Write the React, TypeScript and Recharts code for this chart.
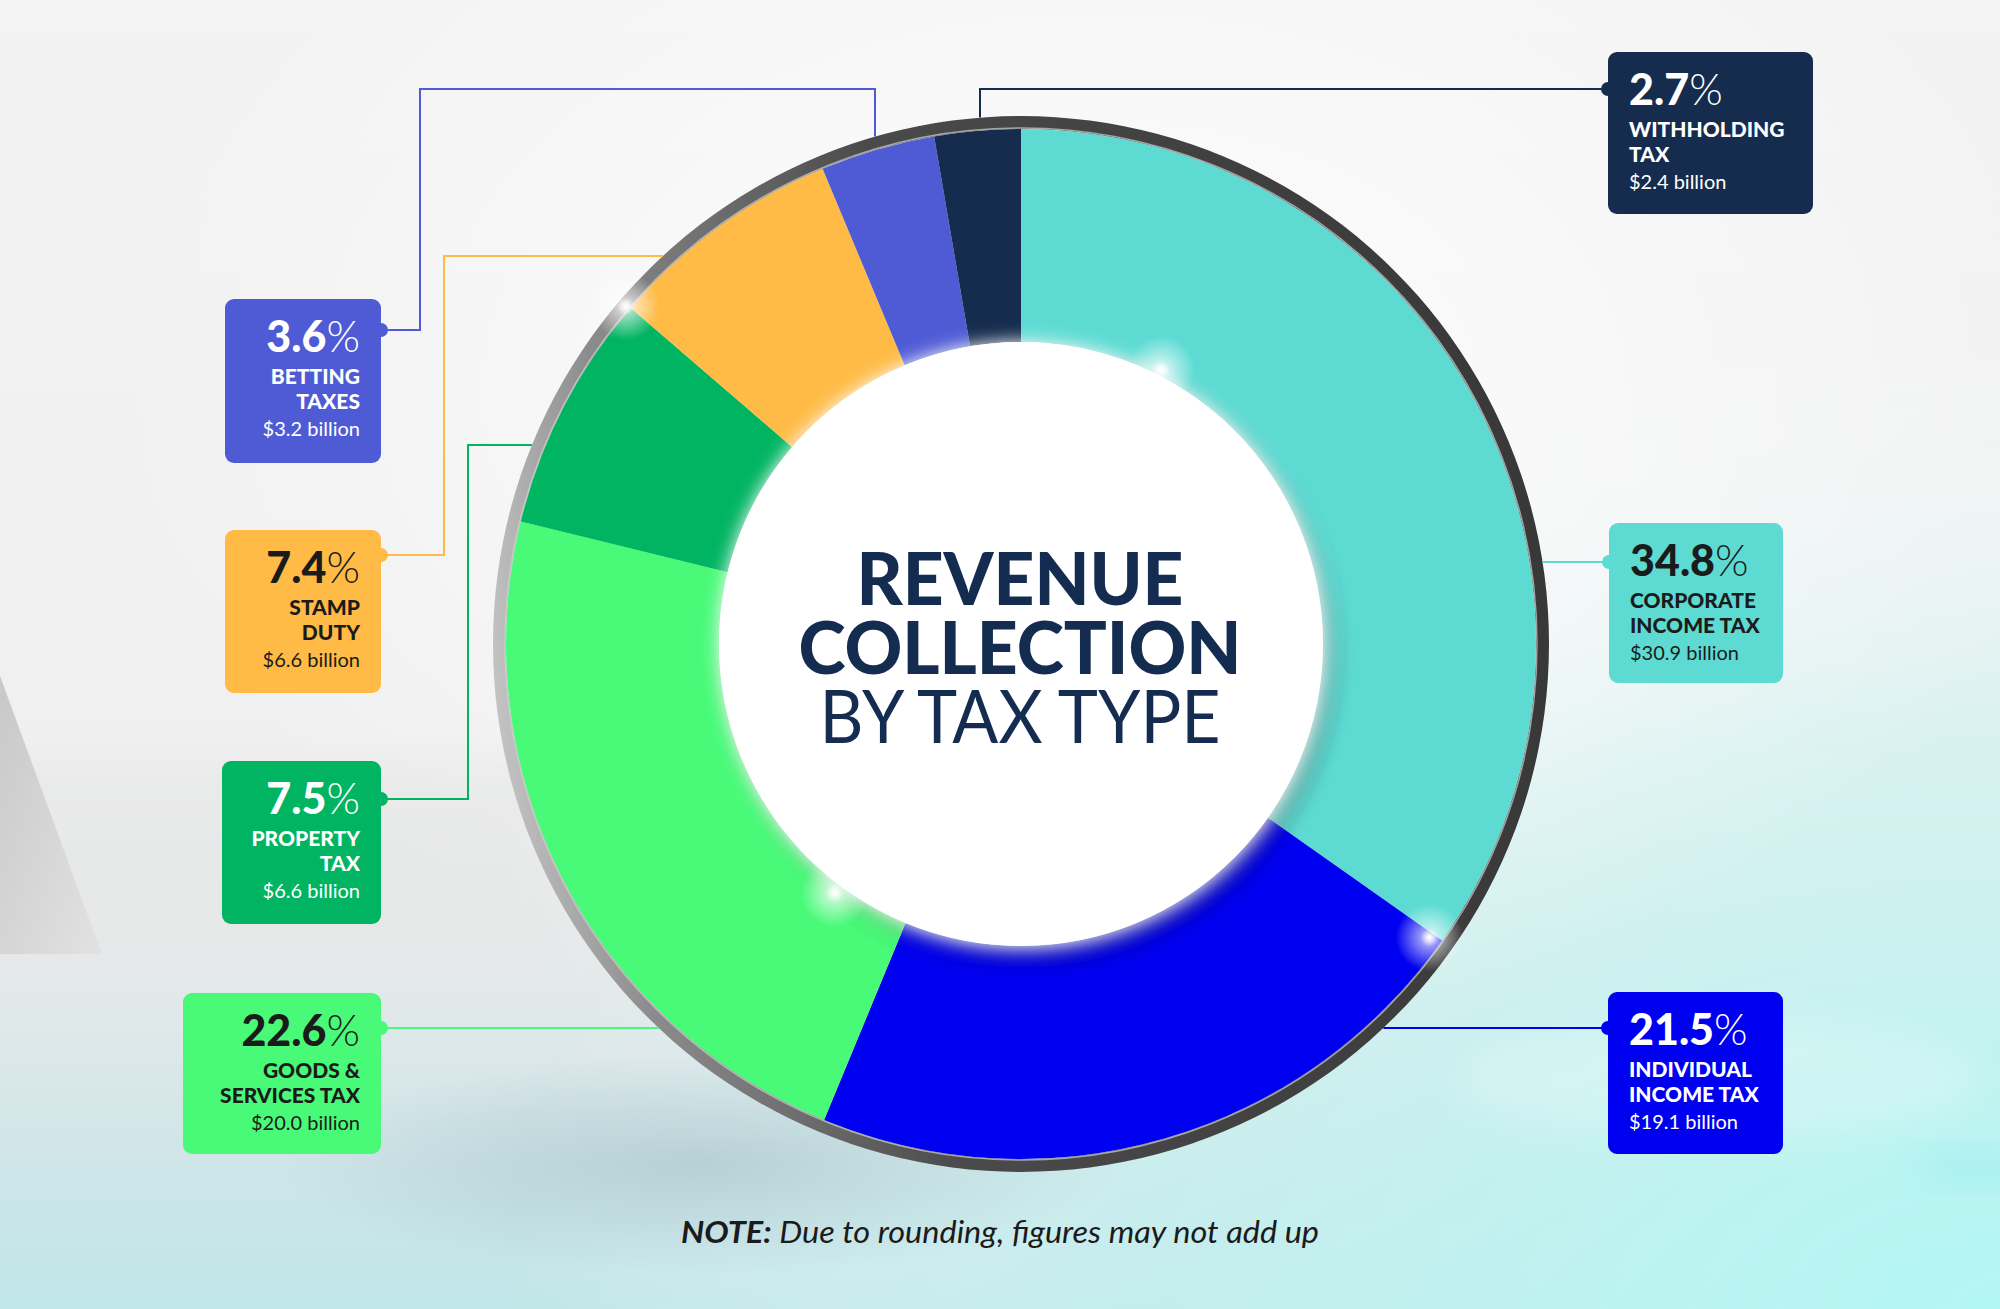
import React from 'react';
import { PieChart, Pie, Cell } from 'recharts';

// slices go clockwise from 12 o'clock
const categories = [
  'Corporate Income Tax',
  'Individual Income Tax',
  'Goods & Services Tax',
  'Property Tax',
  'Stamp Duty',
  'Betting Taxes',
  'Withholding Tax',
];
const labelLines = [
  ['CORPORATE', 'INCOME TAX'],
  ['INDIVIDUAL', 'INCOME TAX'],
  ['GOODS &', 'SERVICES TAX'],
  ['PROPERTY', 'TAX'],
  ['STAMP', 'DUTY'],
  ['BETTING', 'TAXES'],
  ['WITHHOLDING', 'TAX'],
];
const shares = [34.8, 21.5, 22.6, 7.5, 7.4, 3.6, 2.7];
const billions = [30.9, 19.1, 20.0, 6.6, 6.6, 3.2, 2.4];
const ringData = [{ name: 'ring', value: 1 }];

const colors = ['#5DDBD3', '#0000F0', '#48FA78', '#00B462', '#FFBB45', '#4F5BD5', '#152C4E'];
const textColors = ['#1b1b1b', '#ffffff', '#1b1b1b', '#ffffff', '#1b1b1b', '#ffffff', '#ffffff'];

const data = categories.map((name, i) => ({
  name,
  value: shares[i],
  billion: billions[i],
  lines: labelLines[i],
}));

const W = 2000;
const H = 1309;
const CX = 1021;
const CY = 644;
const INNER_R = 302;
const OUTER_R = 515;
const RING_W = 13;
const FONT = 'Lato, "Open Sans", sans-serif';

// box layout, in the same order as the slices.
// steps: elbow coordinates, first a horizontal move to x, then vertical to y, ...
const boxes = [
  { x: 1609, y: 523, w: 174, h: 160, side: 'right', cy: 562, steps: [] as number[] },
  { x: 1608, y: 992, w: 175, h: 162, side: 'right', cy: 1028, steps: [] as number[] },
  { x: 183, y: 993, w: 198, h: 161, side: 'left', cy: 1028, steps: [] as number[] },
  { x: 222, y: 761, w: 159, h: 163, side: 'left', cy: 799, steps: [468, 445] },
  { x: 225, y: 530, w: 156, h: 163, side: 'left', cy: 555, steps: [444, 256] },
  { x: 225, y: 299, w: 156, h: 164, side: 'left', cy: 330, steps: [420, 89, 875] },
  { x: 1608, y: 52, w: 205, h: 162, side: 'right', cy: 89, steps: [980] },
];

function connector(b: any, cx: number, cy: number, r: number) {
  let px = b.side === 'left' ? b.x + b.w : b.x;
  let py = b.cy;
  const pts = [[px, py]];
  b.steps.forEach((v: number, i: number) => {
    if (i % 2 === 0) px = v;
    else py = v;
    pts.push([px, py]);
  });
  if (b.steps.length % 2 === 0) {
    const d = Math.sqrt(r * r - (py - cy) * (py - cy));
    px = px < cx ? cx - d : cx + d;
  } else {
    const d = Math.sqrt(r * r - (px - cx) * (px - cx));
    py = py < cy ? cy - d : cy + d;
  }
  pts.push([px, py]);
  return pts.map((p, i) => `${i ? 'L' : 'M'}${p[0]},${p[1]}`).join(' ');
}

const renderLabel = (props: any) => {
  const { cx, cy, outerRadius, index, payload } = props;
  const b = boxes[index];
  const col = colors[index];
  const tc = textColors[index];
  const left = b.side === 'left';
  const tx = left ? b.x + b.w - 21 : b.x + 21;
  const anchor = left ? 'end' : 'start';
  const item = payload && payload.lines ? payload : data[index];
  const dotX = left ? b.x + b.w : b.x;
  return (
    <g key={`lab-${index}`}>
      <path d={connector(b, cx, cy, outerRadius + RING_W)} fill="none" stroke={col} strokeWidth={2} />
      <rect x={b.x} y={b.y} width={b.w} height={b.h} rx={9} fill={col} />
      <circle cx={dotX} cy={b.cy} r={7} fill={col} />
      <text x={tx} y={b.y + 53} textAnchor={anchor} fill={tc} fontFamily={FONT} fontSize={43}>
        <tspan fontWeight={900}>{item.value.toFixed(1)}</tspan>
        <tspan fontWeight={300}>%</tspan>
      </text>
      <text x={tx} y={b.y + 85} textAnchor={anchor} fill={tc} fontFamily={FONT} fontSize={21} fontWeight={900}>
        {item.lines[0]}
      </text>
      <text x={tx} y={b.y + 110} textAnchor={anchor} fill={tc} fontFamily={FONT} fontSize={21} fontWeight={900}>
        {item.lines[1]}
      </text>
      <text x={tx} y={b.y + 137} textAnchor={anchor} fill={tc} fontFamily={FONT} fontSize={20} fontWeight={400}>
        {`$${item.billion.toFixed(1)} billion`}
      </text>
    </g>
  );
};

// decorative glare spots on the ring: [angle deg, radius]
const glares = [
  [139.5, 520],
  [62.9, 308],
  [233.2, 311],
  [324.3, 503],
];

export default function App() {
  const abs: React.CSSProperties = { position: 'absolute', left: 0, top: 0 };
  return (
    <div style={{ position: 'absolute', left: 0, top: 0, width: W, height: H, overflow: 'hidden', background: '#f1f1f1' }}>
      <svg width={W} height={H} style={abs}>
        <defs>
          <linearGradient id="bgV" x1="0" y1="0" x2="0" y2="1">
            <stop offset="0" stopColor="#f3f3f3" />
            <stop offset="0.55" stopColor="#f0f0f0" />
            <stop offset="0.75" stopColor="#e4e9ea" />
            <stop offset="0.9" stopColor="#cde5e8" />
            <stop offset="1" stopColor="#bfe6e8" />
          </linearGradient>
          <radialGradient id="bgCyan" cx="1" cy="1" r="0.75">
            <stop offset="0" stopColor="#b2f7f3" stopOpacity="1" />
            <stop offset="0.6" stopColor="#c8f3f1" stopOpacity="0.55" />
            <stop offset="1" stopColor="#ffffff" stopOpacity="0" />
          </radialGradient>
          <radialGradient id="bgWhite" cx="0.55" cy="0.3" r="0.5">
            <stop offset="0" stopColor="#ffffff" stopOpacity="0.9" />
            <stop offset="1" stopColor="#ffffff" stopOpacity="0" />
          </radialGradient>
          <radialGradient id="floorShadow" cx="0.5" cy="0.5" r="0.5">
            <stop offset="0" stopColor="#9fbcc4" stopOpacity="0.55" />
            <stop offset="1" stopColor="#9fbcc4" stopOpacity="0" />
          </radialGradient>
          <linearGradient id="wallTri" x1="0" y1="0" x2="1" y2="1">
            <stop offset="0" stopColor="#c8c8c8" />
            <stop offset="1" stopColor="#e2e2e2" />
          </linearGradient>
          <linearGradient id="ringGrad" gradientUnits="userSpaceOnUse" x1="493" y1="700" x2="1548" y2="600">
            <stop offset="0" stopColor="#c4c4c4" />
            <stop offset="0.12" stopColor="#8c8c8c" />
            <stop offset="0.4" stopColor="#4a4a4a" />
            <stop offset="1" stopColor="#383838" />
          </linearGradient>
          <radialGradient id="glare" cx="0.5" cy="0.5" r="0.5">
            <stop offset="0" stopColor="#ffffff" stopOpacity="1" />
            <stop offset="0.25" stopColor="#ffffff" stopOpacity="0.8" />
            <stop offset="1" stopColor="#ffffff" stopOpacity="0" />
          </radialGradient>
          <filter id="discFx" x="-20%" y="-20%" width="140%" height="140%">
            <feGaussianBlur in="SourceAlpha" stdDeviation="11" result="b" />
            <feOffset in="b" dx="9" dy="11" result="ob" />
            <feFlood floodColor="#000000" floodOpacity="0.5" />
            <feComposite in2="ob" operator="in" result="shadow" />
            <feGaussianBlur in="SourceGraphic" stdDeviation="9" result="glow" />
            <feMerge>
              <feMergeNode in="shadow" />
              <feMergeNode in="glow" />
              <feMergeNode in="SourceGraphic" />
            </feMerge>
          </filter>
          <filter id="soft" x="-50%" y="-50%" width="200%" height="200%">
            <feGaussianBlur stdDeviation="18" />
          </filter>
        </defs>
        <rect x={0} y={0} width={W} height={H} fill="url(#bgV)" />
        <rect x={0} y={0} width={W} height={H} fill="url(#bgCyan)" />
        <rect x={0} y={0} width={W} height={H} fill="url(#bgWhite)" />
        <rect x={0} y={763} width={560} height={195} fill="#e6e6e6" opacity={0.55} filter="url(#soft)" />
        <polygon points="0,676 102,954 0,954" fill="url(#wallTri)" />
        <ellipse cx={700} cy={1165} rx={420} ry={110} fill="url(#floorShadow)" />
        <ellipse cx={1720} cy={1080} rx={260} ry={60} fill="#ffffff" opacity={0.22} filter="url(#soft)" />
        <ellipse cx={1975} cy={1168} rx={60} ry={14} fill="#9eeef0" opacity={0.8} filter="url(#soft)" />
      </svg>

      <div style={abs}>
        <PieChart width={W} height={H} margin={{ top: 0, right: 0, bottom: 0, left: 0 }}>
          <Pie
            data={ringData}
            dataKey="value"
            cx={CX}
            cy={CY}
            innerRadius={OUTER_R}
            outerRadius={OUTER_R + RING_W}
            startAngle={90}
            endAngle={-270}
            stroke="none"
            fill="url(#ringGrad)"
            isAnimationActive={false}
          />
          <Pie
            data={data}
            dataKey="value"
            nameKey="name"
            cx={CX}
            cy={CY}
            innerRadius={INNER_R}
            outerRadius={OUTER_R}
            startAngle={90}
            endAngle={-270}
            stroke="none"
            label={renderLabel}
            labelLine={false}
            isAnimationActive={false}
          >
            {data.map((d, i) => (
              <Cell key={d.name} fill={colors[i]} stroke="none" />
            ))}
          </Pie>
        </PieChart>
      </div>

      <svg width={W} height={H} style={{ ...abs, pointerEvents: 'none' }}>
        <circle cx={CX} cy={CY} r={OUTER_R + 1} fill="none" stroke="#d0d0d0" strokeWidth={1.5} opacity={0.7} />
        <circle cx={CX} cy={CY} r={INNER_R} fill="#ffffff" filter="url(#discFx)" />
        {glares.map(([a, r], i) => {
          const rad = (a * Math.PI) / 180;
          const gx = CX + r * Math.cos(rad);
          const gy = CY - r * Math.sin(rad);
          return (
            <g key={i}>
              <circle cx={gx} cy={gy} r={34} fill="url(#glare)" opacity={0.75} />
              <circle cx={gx} cy={gy} r={9} fill="url(#glare)" />
            </g>
          );
        })}
        <g fill="#142C50" fontFamily={FONT} textAnchor="middle">
          <text x={1020} y={605} fontSize={72} fontWeight={900} textLength={327} lengthAdjust="spacingAndGlyphs">
            REVENUE
          </text>
          <text x={1020} y={674} fontSize={72} fontWeight={900} textLength={443} lengthAdjust="spacingAndGlyphs">
            COLLECTION
          </text>
          <text x={1020} y={743} fontSize={73} fontWeight={400} textLength={401} lengthAdjust="spacingAndGlyphs">
            BY TAX TYPE
          </text>
        </g>
        <text
          x={1000}
          y={1243}
          textAnchor="middle"
          fontFamily={FONT}
          fontSize={31}
          fontStyle="italic"
          fill="#1b1b1b"
          textLength={638}
          lengthAdjust="spacingAndGlyphs"
        >
          <tspan fontWeight={700}>NOTE:</tspan>
          <tspan fontWeight={400}> Due to rounding, figures may not add up</tspan>
        </text>
      </svg>
    </div>
  );
}
